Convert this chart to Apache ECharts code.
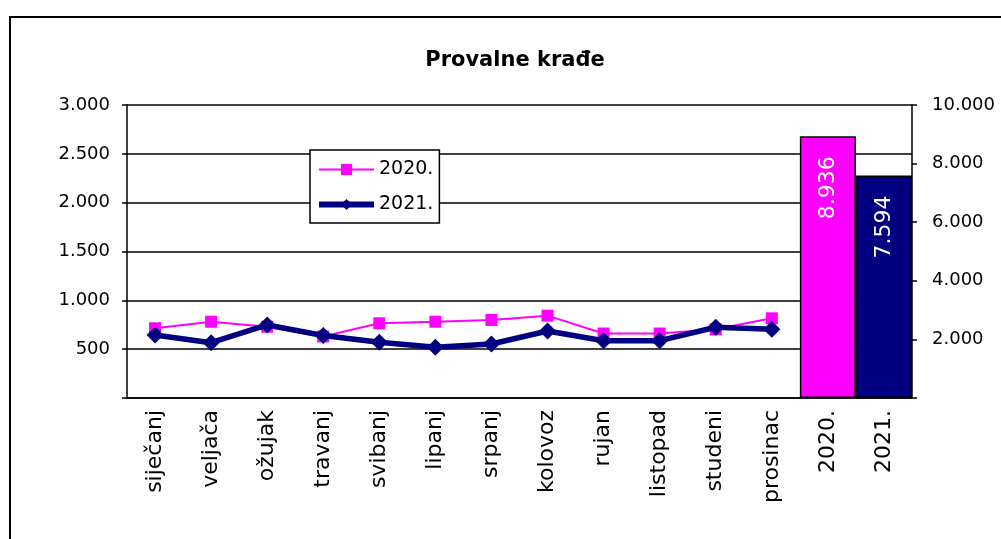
<!DOCTYPE html>
<html>
<head>
<meta charset="utf-8">
<script src="https://cdn.jsdelivr.net/npm/echarts@6/dist/echarts.min.js"></script>
<style>
  body { margin: 0; background: #fff; }
  #chart { width: 1001px; height: 539px; }
</style>
</head>
<body>
<div id="chart"></div>
<script>
// kategorije na osi x
const months = ['siječanj', 'veljača', 'ožujak', 'travanj', 'svibanj', 'lipanj',
  'srpanj', 'kolovoz', 'rujan', 'listopad', 'studeni', 'prosinac'];
const years = ['2020.', '2021.'];
// mjesečne vrijednosti (lijeva os)
const data2020 = [714, 781, 730, 630, 765, 781, 799, 843, 660, 660, 703, 816];
const data2021 = [645, 566, 748, 640, 570, 519, 553, 686, 587, 587, 724, 703];
// godišnji ukupni zbroj (desna os)
const totals = [8936, 7594];
const totalColors = ['#FF00FF', '#000080'];

const fmt = v => v === 0 ? '' : v.toLocaleString('de-DE');
const font = 'DejaVu Sans';

const categories = months.concat(years);
const pad = arr => arr.concat(years.map(() => null));

let chart = echarts.init(document.getElementById('chart'));
let option = {
  animation: false,
  textStyle: { fontFamily: font, color: '#000' },
  title: {
    text: 'Provalne krađe',
    left: 510,
    top: 45,
    textAlign: 'center',
    textStyle: { fontFamily: font, fontSize: 21, fontWeight: 'bold', color: '#000' }
  },
  graphic: [{
    type: 'rect',
    shape: { x: 10, y: 17, width: 1010, height: 560 },
    style: { fill: 'none', stroke: '#000', lineWidth: 2 },
    silent: true
  }],
  legend: {
    orient: 'vertical',
    left: 310,
    top: 150,
    padding: [10, 6, 9, 6],
    itemGap: 16,
    itemWidth: 55,
    itemHeight: 14,
    backgroundColor: '#fff',
    borderColor: '#000',
    borderWidth: 1.5,
    textStyle: { fontFamily: font, fontSize: 19, color: '#000' },
    data: [
      { name: '2020.', lineStyle: { width: 2 } },
      { name: '2021.', lineStyle: { width: 6 } }
    ]
  },
  grid: { left: 127, right: 89, top: 105, bottom: 141 },
  xAxis: {
    type: 'category',
    data: categories,
    boundaryGap: true,
    axisLine: { lineStyle: { color: '#000', width: 1.5 } },
    axisTick: { length: 6, lineStyle: { color: '#000', width: 1.5 } },
    axisLabel: { rotate: 90, margin: 12, fontSize: 22, fontFamily: font, color: '#000', interval: 0 }
  },
  yAxis: [
    {
      type: 'value',
      min: 0,
      max: 3000,
      interval: 500,
      axisLine: { show: true, lineStyle: { color: '#000', width: 1.5 } },
      axisTick: { show: true, length: 5, lineStyle: { color: '#000', width: 1.5 } },
      axisLabel: { formatter: fmt, fontSize: 18, fontFamily: font, color: '#000', margin: 17 },
      splitLine: { show: true, lineStyle: { color: '#000', width: 1.5 } }
    },
    {
      type: 'value',
      min: 0,
      max: 10000,
      interval: 2000,
      position: 'right',
      axisLine: { show: true, lineStyle: { color: '#000', width: 1.5 } },
      axisTick: { show: true, length: 5, lineStyle: { color: '#000', width: 1.5 } },
      axisLabel: { formatter: fmt, fontSize: 18, fontFamily: font, color: '#000', margin: 20 },
      splitLine: { show: false }
    }
  ],
  series: [
    {
      name: 'ukupno',
      type: 'bar',
      yAxisIndex: 1,
      barWidth: '100%',
      data: months.map(() => null).concat(totals.map((v, i) => ({
        value: v,
        itemStyle: { color: totalColors[i], borderColor: '#000', borderWidth: 1.5 }
      }))),
      label: {
        show: true,
        position: 'insideTop',
        rotate: 90,
        align: 'right',
        verticalAlign: 'middle',
        distance: 20,
        formatter: p => fmt(p.value),
        fontSize: 22,
        fontFamily: font,
        color: '#fff'
      },
      z: 1
    },
    {
      name: '2020.',
      type: 'line',
      data: pad(data2020),
      symbol: 'rect',
      symbolSize: 12,
      color: '#FF00FF',
      lineStyle: { color: '#FF00FF', width: 2 },
      itemStyle: { color: '#FF00FF' },
      z: 3
    },
    {
      name: '2021.',
      type: 'line',
      data: pad(data2021),
      symbol: 'diamond',
      symbolSize: 17,
      color: '#000080',
      lineStyle: { color: '#000080', width: 5.5 },
      itemStyle: { color: '#000080' },
      z: 4
    }
  ]
};
chart.setOption(option);
</script>
</body>
</html>
